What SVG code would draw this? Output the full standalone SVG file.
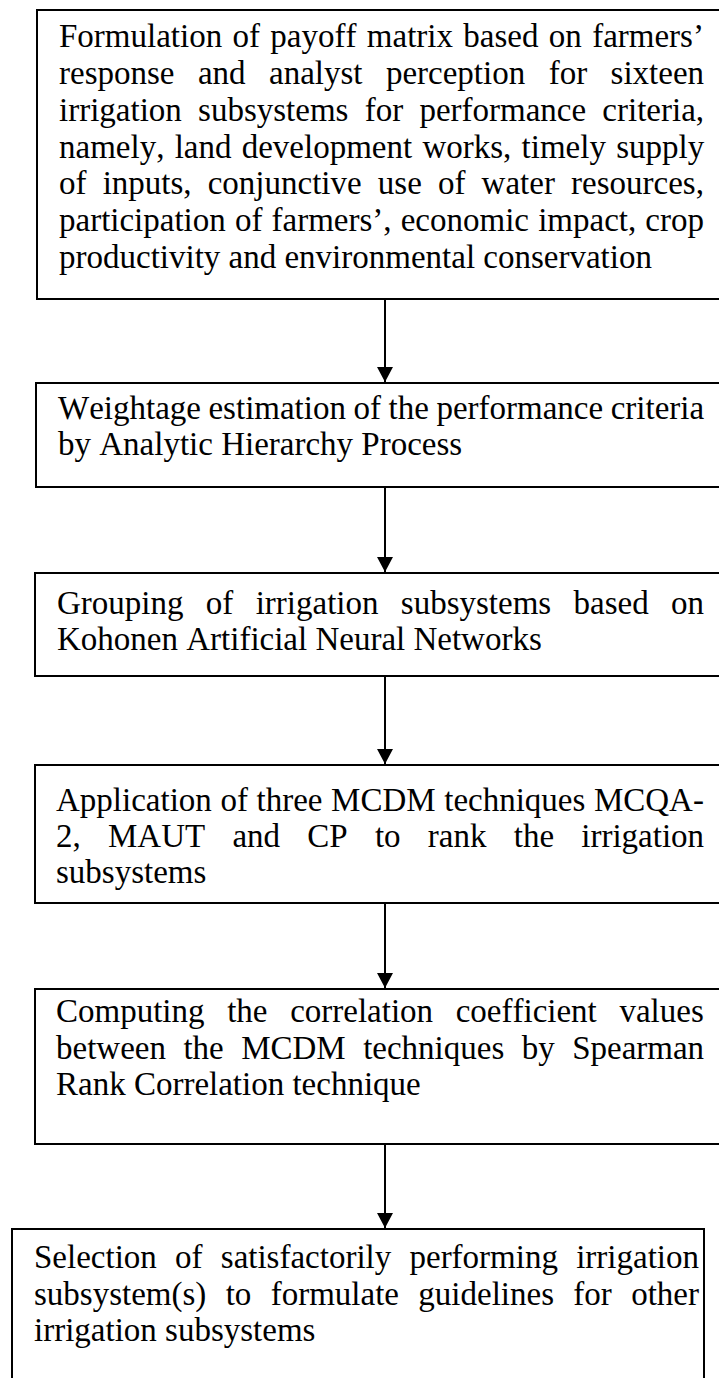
<svg xmlns="http://www.w3.org/2000/svg" width="719" height="1378" viewBox="0 0 719 1378">
  <style>
    .box { fill: #ffffff; stroke: #000000; stroke-width: 2; }
    .t { font-family: "Liberation Serif", "Times New Roman", serif; font-size: 33px; fill: #000000; font-kerning: none; }
    .link { stroke: #000000; stroke-width: 2; fill: none; }
  </style>
  <defs>
    <marker id="arrow" markerUnits="userSpaceOnUse" markerWidth="16" markerHeight="16" refX="15" refY="8" orient="auto">
      <path d="M0,0 L15,8 L0,16 Z" fill="#000000"/>
    </marker>
  </defs>

  <rect x="0" y="0" width="719" height="1378" fill="#ffffff"/>

  <!-- Connectors -->
  <g id="connectors">
    <line class="link" x1="385" y1="299" x2="385" y2="382" marker-end="url(#arrow)"/>
    <line class="link" x1="385" y1="487" x2="385" y2="572" marker-end="url(#arrow)"/>
    <line class="link" x1="385" y1="676" x2="385" y2="764" marker-end="url(#arrow)"/>
    <line class="link" x1="385" y1="903" x2="385" y2="988" marker-end="url(#arrow)"/>
    <line class="link" x1="385" y1="1144" x2="385" y2="1228" marker-end="url(#arrow)"/>
  </g>

  <!-- Step 1: payoff matrix -->
  <g id="step-payoff-matrix">
    <rect class="box" x="37" y="10" width="700" height="289"/>
    <text class="t" x="59" y="47" word-spacing="2.1">Formulation of payoff matrix based on farmers’</text>
    <text class="t" x="59" y="84" word-spacing="15.2">response and analyst perception for sixteen</text>
    <text class="t" x="59" y="120.5" word-spacing="8">irrigation subsystems for performance criteria,</text>
    <text class="t" x="59" y="157.5" word-spacing="2">namely, land development works, timely supply</text>
    <text class="t" x="59" y="194" word-spacing="7.9">of inputs, conjunctive use of water resources,</text>
    <text class="t" x="59" y="231" word-spacing="0.9">participation of farmers’, economic impact, crop</text>
    <text class="t" x="59" y="268">productivity and environmental conservation</text>
  </g>

  <!-- Step 2: AHP weightage -->
  <g id="step-ahp-weightage">
    <rect class="box" x="36" y="383" width="700" height="104"/>
    <text class="t" x="58" y="419" word-spacing="-0.7">Weightage estimation of the performance criteria</text>
    <text class="t" x="58" y="455">by Analytic Hierarchy Process</text>
  </g>

  <!-- Step 3: Kohonen grouping -->
  <g id="step-kohonen-grouping">
    <rect class="box" x="35" y="573" width="700" height="103"/>
    <text class="t" x="57" y="614" word-spacing="14.1">Grouping of irrigation subsystems based on</text>
    <text class="t" x="57" y="650">Kohonen Artificial Neural Networks</text>
  </g>

  <!-- Step 4: MCDM ranking -->
  <g id="step-mcdm-ranking">
    <rect class="box" x="35" y="765" width="700" height="138"/>
    <text class="t" x="56" y="811" word-spacing="0.36">Application of three MCDM techniques MCQA-</text>
    <text class="t" x="56" y="847" word-spacing="19">2, MAUT and CP to rank the irrigation</text>
    <text class="t" x="56" y="883">subsystems</text>
  </g>

  <!-- Step 5: Spearman correlation -->
  <g id="step-spearman-correlation">
    <rect class="box" x="35" y="989" width="700" height="155"/>
    <text class="t" x="56" y="1022" word-spacing="14.4">Computing the correlation coefficient values</text>
    <text class="t" x="56" y="1059" word-spacing="9.2">between the MCDM techniques by Spearman</text>
    <text class="t" x="56" y="1095">Rank Correlation technique</text>
  </g>

  <!-- Step 6: selection of subsystems -->
  <g id="step-selection">
    <rect class="box" x="12" y="1229" width="692" height="170"/>
    <text class="t" x="34" y="1268" word-spacing="10">Selection of satisfactorily performing irrigation</text>
    <text class="t" x="34" y="1305" word-spacing="11.1">subsystem(s) to formulate guidelines for other</text>
    <text class="t" x="34" y="1341">irrigation subsystems</text>
  </g>
</svg>
